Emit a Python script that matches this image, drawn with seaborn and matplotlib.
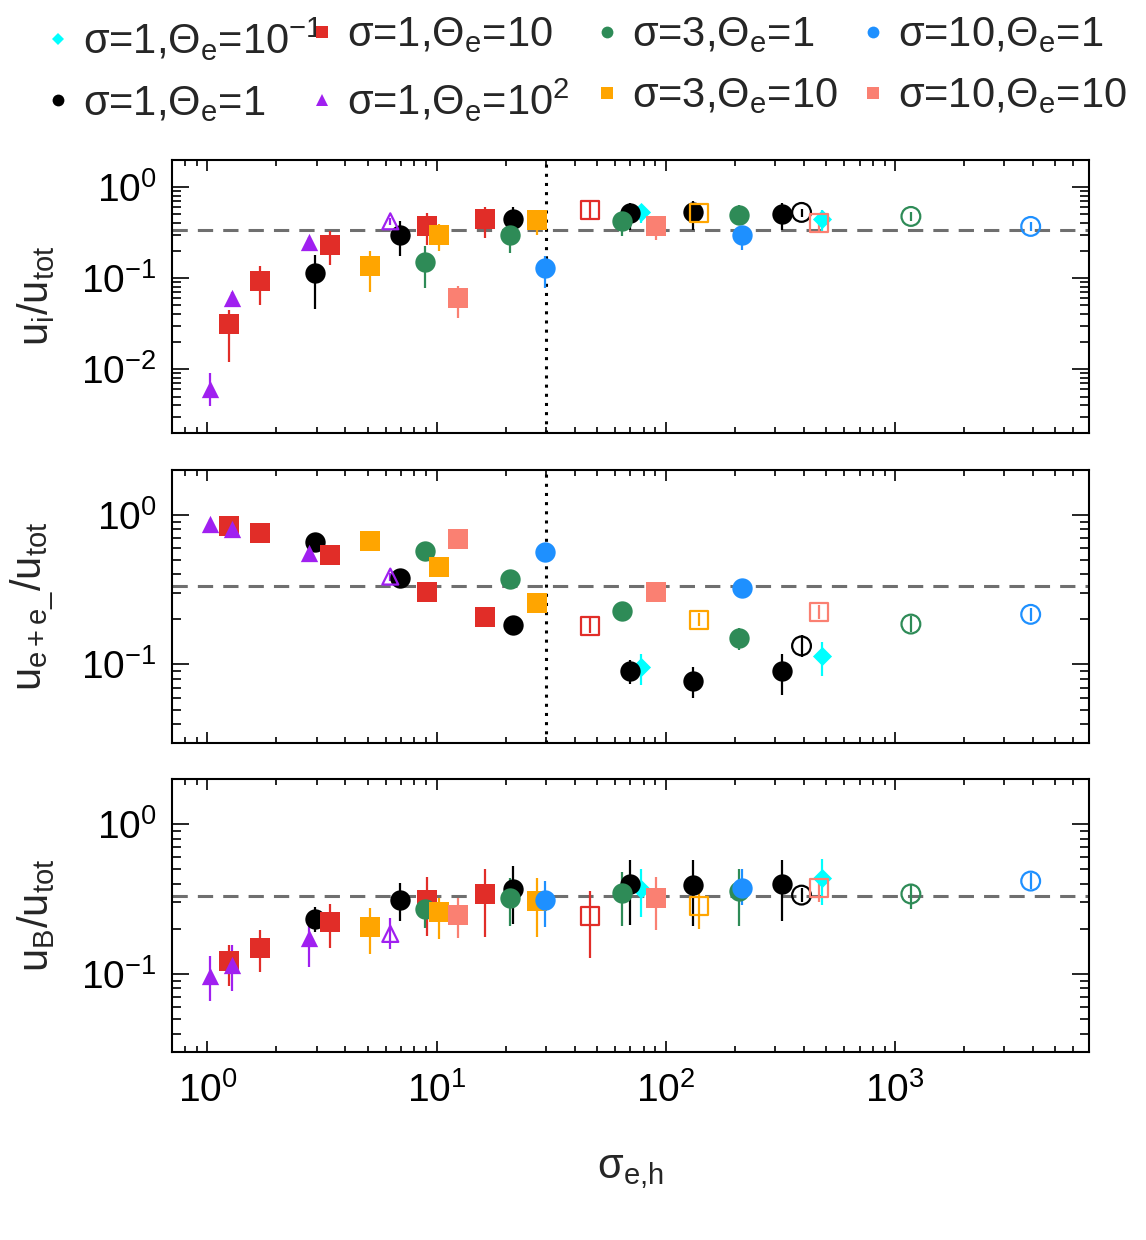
import numpy as np
import matplotlib
matplotlib.use("Agg")
import matplotlib.pyplot as plt
from matplotlib.lines import Line2D
from matplotlib.ticker import LogLocator, NullFormatter, LogFormatterSciNotation
import seaborn as sns
import pandas as pd

sns.set_theme(style="ticks")
plt.rcParams["font.family"] = ["Liberation Sans", "DejaVu Sans"]
plt.rcParams["mathtext.fontset"] = "custom"
plt.rcParams["mathtext.rm"] = "Liberation Sans"
plt.rcParams["mathtext.it"] = "Liberation Sans"
plt.rcParams["mathtext.default"] = "regular"
plt.rcParams["axes.unicode_minus"] = True

# ---- series (sigma, Theta_e) ----
series_keys = ["s1t01", "s1t1", "s1t10", "s1t100", "s3t1", "s3t10", "s10t1", "s10t10"]
series_labels = [r"σ=1,Θ$_e$=10$^{-1}$", r"σ=1,Θ$_e$=1", r"σ=1,Θ$_e$=10", r"σ=1,Θ$_e$=10$^{2}$",
                 r"σ=3,Θ$_e$=1", r"σ=3,Θ$_e$=10", r"σ=10,Θ$_e$=1", r"σ=10,Θ$_e$=10"]
series_colors = ["#00FFFF", "#000000", "#E12D28", "#A020F0",
                 "#2E8B57", "#FFA500", "#1E90FF", "#FA8072"]
series_markers = ["D", "o", "s", "^", "o", "s", "o", "s"]

# ---- one entry per run ----
run_series = ["s1t01", "s1t01",
              "s1t1", "s1t1", "s1t1", "s1t1", "s1t1", "s1t1", "s1t1",
              "s1t10", "s1t10", "s1t10", "s1t10", "s1t10", "s1t10",
              "s1t100", "s1t100", "s1t100", "s1t100",
              "s3t1", "s3t1", "s3t1", "s3t1", "s3t1",
              "s3t10", "s3t10", "s3t10", "s3t10",
              "s10t1", "s10t1", "s10t1",
              "s10t10", "s10t10", "s10t10"]
run_open = [0, 0,
            0, 0, 0, 0, 0, 0, 1,
            0, 0, 0, 0, 0, 1,
            0, 0, 0, 1,
            0, 0, 0, 0, 1,
            0, 0, 0, 1,
            0, 0, 1,
            0, 0, 1]
sigma_eh = [78.0, 479.0,
            2.96, 6.95, 21.5, 70.1, 131.0, 321.0, 391.0,
            1.24, 1.70, 3.42, 9.08, 16.3, 46.8,
            1.03, 1.28, 2.77, 6.28,
            8.93, 20.8, 64.5, 209.0, 1173.0,
            5.10, 10.2, 27.4, 140.0,
            29.8, 215.0, 3908.0,
            12.4, 90.7, 467.0]

# u_i / u_tot  (value, lower end, upper end of error bar)
u_ion = [0.53, 0.44,
         0.113, 0.30, 0.445, 0.518, 0.526, 0.505, 0.526,
         0.0315, 0.093, 0.232, 0.376, 0.445, 0.563,
         0.006, 0.060, 0.25, 0.42,
         0.149, 0.30, 0.426, 0.488, 0.475,
         0.134, 0.30, 0.437, 0.518,
         0.129, 0.30, 0.369,
         0.060, 0.369, 0.40]
u_ion_lo = [0.40, 0.33,
            0.046, 0.173, 0.33, 0.34, 0.34, 0.34, 0.47,
            0.0121, 0.051, 0.14, 0.232, 0.275, 0.456,
            0.0039, 0.050, 0.22, 0.38,
            0.078, 0.19, 0.29, 0.38, 0.42,
            0.071, 0.196, 0.30, 0.46,
            0.078, 0.205, 0.33,
            0.036, 0.264, 0.33]
u_ion_hi = [0.62, 0.56,
            0.18, 0.42, 0.60, 0.667, 0.695, 0.667, 0.58,
            0.045, 0.134, 0.325, 0.52, 0.61, 0.695,
            0.009, 0.070, 0.28, 0.46,
            0.223, 0.42, 0.55, 0.64, 0.53,
            0.196, 0.395, 0.56, 0.58,
            0.173, 0.37, 0.41,
            0.082, 0.44, 0.47]

# u_e+e- / u_tot
u_pair = [0.0955, 0.114,
          0.653, 0.38, 0.183, 0.0906, 0.078, 0.0906, 0.133,
          0.844, 0.754, 0.540, 0.306, 0.208, 0.181,
          0.867, 0.805, 0.554, 0.386,
          0.574, 0.373, 0.228, 0.151, 0.186,
          0.663, 0.444, 0.259, 0.198,
          0.560, 0.323, 0.216,
          0.687, 0.306, 0.225]
u_pair_lo = [0.073, 0.084,
             0.60, 0.323, 0.16, 0.0746, 0.060, 0.063, 0.112,
             0.78, 0.70, 0.50, 0.28, 0.19, 0.161,
             0.80, 0.75, 0.51, 0.36,
             0.53, 0.34, 0.21, 0.125, 0.165,
             0.62, 0.41, 0.24, 0.18,
             0.52, 0.30, 0.195,
             0.64, 0.28, 0.20]
u_pair_hi = [0.118, 0.142,
             0.72, 0.43, 0.21, 0.107, 0.0964, 0.117, 0.157,
             0.91, 0.81, 0.58, 0.33, 0.225, 0.208,
             0.93, 0.86, 0.60, 0.41,
             0.62, 0.40, 0.25, 0.174, 0.21,
             0.70, 0.48, 0.28, 0.22,
             0.60, 0.345, 0.24,
             0.73, 0.33, 0.25]

# u_B / u_tot
u_mag = [0.367, 0.44,
         0.231, 0.314, 0.371, 0.396, 0.392, 0.401, 0.336,
         0.1215, 0.149, 0.222, 0.314, 0.343, 0.243,
         0.0964, 0.115, 0.174, 0.185,
         0.272, 0.323, 0.349, 0.357, 0.342,
         0.205, 0.259, 0.306, 0.284,
         0.311, 0.377, 0.417,
         0.249, 0.323, 0.373]
u_mag_lo = [0.24, 0.288,
            0.19, 0.225, 0.214, 0.212, 0.209, 0.225, 0.30,
            0.083, 0.1025, 0.148, 0.179, 0.176, 0.128,
            0.066, 0.077, 0.111, 0.146,
            0.203, 0.21, 0.209, 0.21, 0.27,
            0.135, 0.172, 0.177, 0.20,
            0.205, 0.29, 0.37,
            0.175, 0.198, 0.30]
u_mag_hi = [0.50, 0.589,
            0.28, 0.407, 0.526, 0.574, 0.574, 0.574, 0.375,
            0.157, 0.196, 0.294, 0.446, 0.505, 0.357,
            0.131, 0.155, 0.229, 0.235,
            0.35, 0.44, 0.48, 0.50, 0.40,
            0.274, 0.319, 0.44, 0.37,
            0.42, 0.50, 0.47,
            0.32, 0.446, 0.44]

df = pd.DataFrame({
    "series": run_series, "open": run_open, "sigma_eh": sigma_eh,
    "ui": u_ion, "ui_lo": u_ion_lo, "ui_hi": u_ion_hi,
    "ue": u_pair, "ue_lo": u_pair_lo, "ue_hi": u_pair_hi,
    "ub": u_mag, "ub_lo": u_mag_lo, "ub_hi": u_mag_hi,
})

marker_area = {"o": 215, "s": 205, "^": 155, "D": 95}

fig = plt.figure(figsize=(11.46, 12.40), dpi=100)
left, width = 0.150, 0.800
panels = [
    ("ui", r"u$_i$/u$_{tot}$", (2e-3, 2.0), 0.651, True),
    ("ue", r"u$_{e+e\_}$/u$_{tot}$", (0.03, 2.0), 0.401, True),
    ("ub", r"u$_B$/u$_{tot}$", (0.03, 2.0), 0.1514, False),
]
axes = []
for col, ylab, ylim, bottom, vline in panels:
    ax = fig.add_axes([left, bottom, width, 0.2203])
    for key, color, mk in zip(series_keys, series_colors, series_markers):
        sub = df[df["series"] == key]
        yerr = [sub[col] - sub[col + "_lo"], sub[col + "_hi"] - sub[col]]
        ax.errorbar(sub["sigma_eh"], sub[col], yerr=yerr, fmt="none",
                    ecolor=color, elinewidth=1.6, capsize=0, zorder=2)
        filled = sub[sub["open"] == 0]
        hollow = sub[sub["open"] == 1]
        sns.scatterplot(x=filled["sigma_eh"], y=filled[col], marker=mk,
                        s=marker_area[mk], color=color, edgecolor=color,
                        linewidth=0, ax=ax, zorder=3, legend=False)
        if len(hollow):
            sns.scatterplot(x=hollow["sigma_eh"], y=hollow[col], marker=mk,
                            s=marker_area[mk] * 0.85, color=color, facecolor="none",
                            edgecolor=color, linewidth=1.6, ax=ax, zorder=3,
                            legend=False)
    ax.axhline(1.0 / 3.0, color="#6f6f6f", lw=2.2, dashes=(5, 3.3), zorder=1)
    if vline:
        ax.axvline(30.0, color="black", lw=2.2, dashes=(1, 2), zorder=1)
    ax.set_xscale("log")
    ax.set_yscale("log")
    ax.set_xlim(0.70, 7000)
    ax.set_ylim(*ylim)
    ax.set_xlabel("")
    ax.set_ylabel(ylab, fontsize=30)
    ax.yaxis.set_label_coords(-0.125, 0.5)
    ax.xaxis.set_major_locator(LogLocator(base=10))
    ax.xaxis.set_minor_locator(LogLocator(base=10, subs=np.arange(2, 10)))
    ax.yaxis.set_major_locator(LogLocator(base=10))
    ax.yaxis.set_minor_locator(LogLocator(base=10, subs=np.arange(2, 10)))
    ax.yaxis.set_major_formatter(LogFormatterSciNotation())
    ax.xaxis.set_minor_formatter(NullFormatter())
    ax.yaxis.set_minor_formatter(NullFormatter())
    ax.tick_params(axis="both", which="both", direction="in", top=True, right=True,
                   colors="black", width=1.2)
    ax.tick_params(axis="x", which="major", length=8, labelsize=28, pad=14)
    ax.tick_params(axis="x", which="minor", length=4.2)
    ax.tick_params(axis="y", which="major", length=12.5, labelsize=28, pad=11)
    ax.tick_params(axis="y", which="minor", length=6.5)
    for sp in ax.spines.values():
        sp.set_linewidth(1.5)
        sp.set_color("black")
    if col != "ub":
        ax.tick_params(axis="x", which="both", labelbottom=False)
    axes.append(ax)

axes[-1].set_xlabel(r"σ$_{e{,}h}$", fontsize=30, labelpad=30)

# legend: four columns of two entries, placed like the original
handles = [Line2D([], [], ls="none", marker=mk, color=c, markeredgewidth=0,
                  markersize=(6.5 if mk == "D" else 8.5))
           for mk, c in zip(series_markers, series_colors)]
col_left = [0.0397, 0.2701, 0.5188, 0.7509]
for i, x0 in enumerate(col_left):
    fig.legend(handles[2 * i:2 * i + 2], series_labels[2 * i:2 * i + 2],
               loc="upper left", bbox_to_anchor=(x0, 0.9875), frameon=False,
               fontsize=30, handlelength=0.6, handletextpad=0.3,
               labelspacing=0.5, borderpad=0.0, borderaxespad=0.0)

fig.savefig("out.png", dpi=100)
